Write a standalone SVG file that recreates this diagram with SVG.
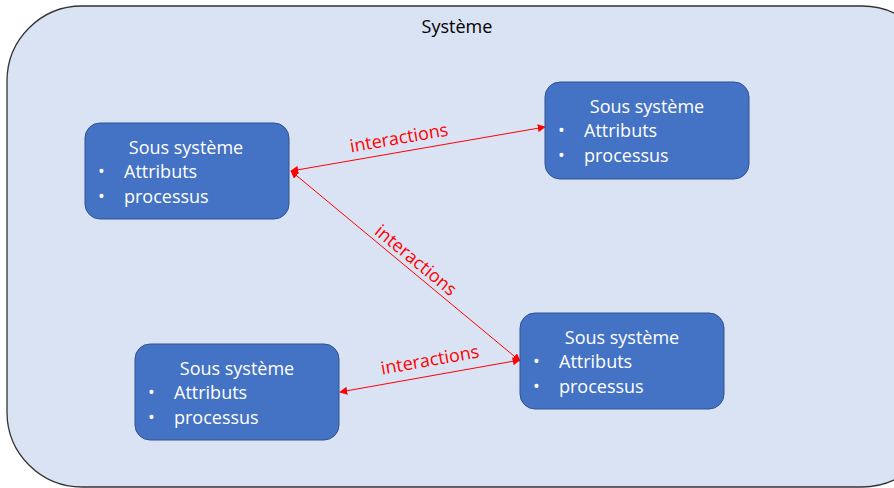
<svg xmlns="http://www.w3.org/2000/svg" width="894" height="488" viewBox="0 0 894 488">
<style>
.box{fill:#4472C4;stroke:#2F528F;stroke-width:1}
.t{font-family:"Open Sans","Liberation Sans",sans-serif;font-size:18px;fill:#ffffff}
.lbl{font-family:"Open Sans","Liberation Sans",sans-serif;font-size:18px;fill:#FF0000}
.conn{stroke:#FF0000;stroke-width:1;fill:none;marker-start:url(#ah);marker-end:url(#ah)}
</style>
<defs>
<marker id="ah" viewBox="0 0 10 10" refX="9" refY="5" markerWidth="8" markerHeight="8" markerUnits="userSpaceOnUse" orient="auto-start-reverse">
<path d="M0,0 L10,5 L0,10 z" fill="#FF0000"/>
</marker>
</defs>
<rect width="894" height="488" fill="#ffffff"/>
<g id="systeme">
<rect x="7" y="6" width="930" height="481" rx="75" ry="75" fill="#DAE3F3" stroke="#333333" stroke-width="1.3"/>
<text x="457" y="33" text-anchor="middle" font-family="Open Sans, Liberation Sans, sans-serif" font-size="18" fill="#000000">Système</text>
</g>
<g id="connectors">
<line class="conn" x1="291" y1="171" x2="545" y2="127"/>
<line class="conn" x1="291" y1="171" x2="520" y2="361"/>
<line class="conn" x1="340" y1="392" x2="520" y2="360"/>
<text class="lbl" text-anchor="middle" transform="translate(400,144) rotate(-9.8)">interactions</text>
<text class="lbl" text-anchor="middle" transform="translate(412,265) rotate(39.5)">interactions</text>
<text class="lbl" text-anchor="middle" transform="translate(431,366) rotate(-10)">interactions</text>
</g>
<g id="ss1">
<rect class="box" x="85" y="123" width="204" height="96" rx="15"/>
<text class="t" x="186" y="154" text-anchor="middle">Sous système</text>
<text class="t" x="98" y="178">•</text><text class="t" x="124" y="178">Attributs</text>
<text class="t" x="98" y="203">•</text><text class="t" x="124" y="203">processus</text>
</g>
<g id="ss2">
<rect class="box" x="545" y="82" width="204" height="97" rx="15"/>
<text class="t" x="647" y="113" text-anchor="middle">Sous système</text>
<text class="t" x="558" y="137">•</text><text class="t" x="584" y="137">Attributs</text>
<text class="t" x="558" y="162">•</text><text class="t" x="584" y="162">processus</text>
</g>
<g id="ss3">
<rect class="box" x="520" y="313" width="204" height="96" rx="15"/>
<text class="t" x="622" y="344" text-anchor="middle">Sous système</text>
<text class="t" x="533" y="368">•</text><text class="t" x="559" y="368">Attributs</text>
<text class="t" x="533" y="393">•</text><text class="t" x="559" y="393">processus</text>
</g>
<g id="ss4">
<rect class="box" x="135" y="344" width="204" height="96" rx="15"/>
<text class="t" x="237" y="375" text-anchor="middle">Sous système</text>
<text class="t" x="148" y="399">•</text><text class="t" x="174" y="399">Attributs</text>
<text class="t" x="148" y="424">•</text><text class="t" x="174" y="424">processus</text>
</g>
</svg>
